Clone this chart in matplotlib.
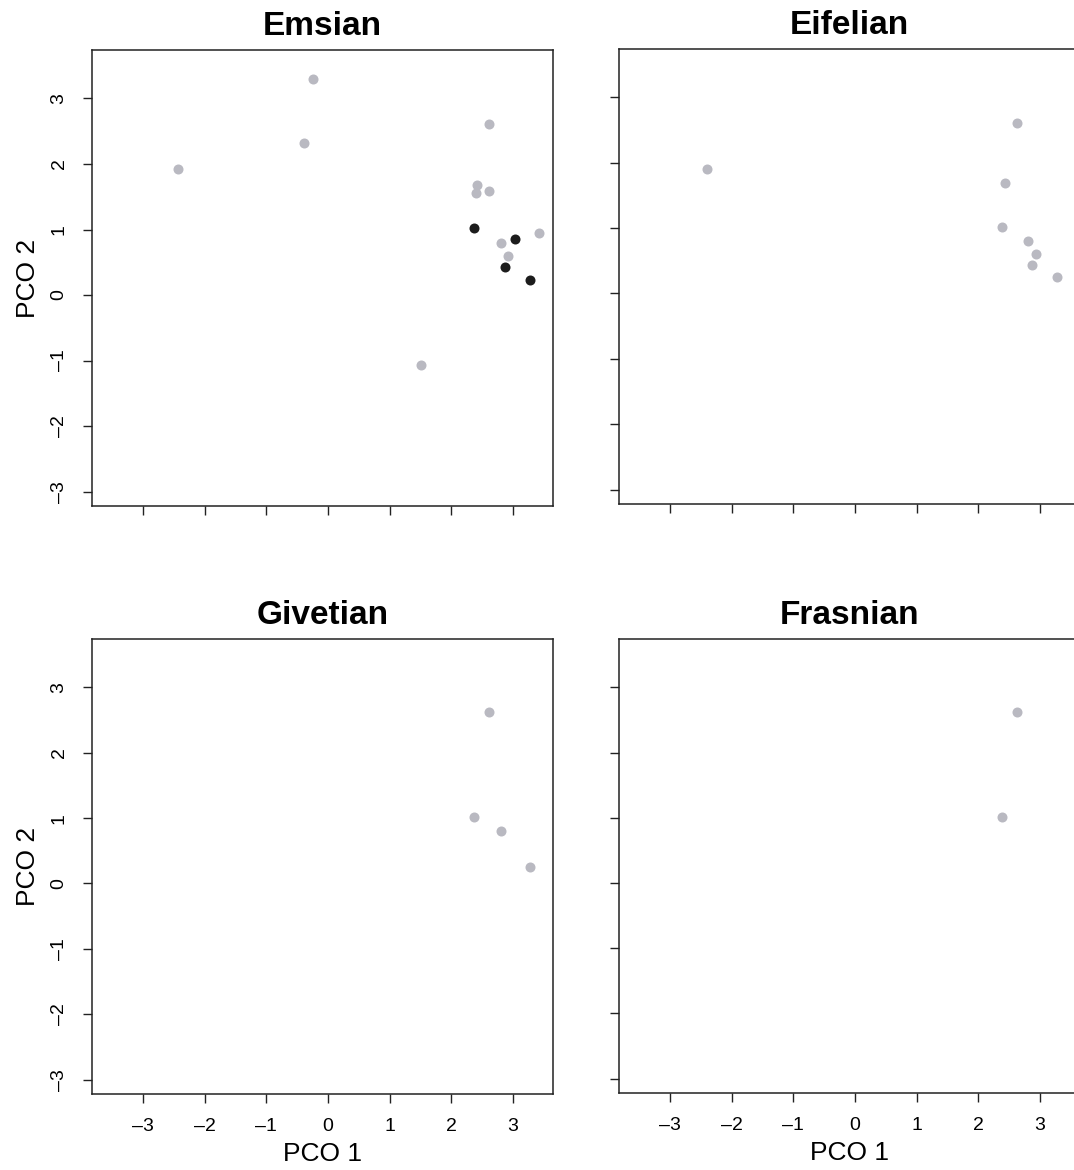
import matplotlib
matplotlib.use("Agg")
import matplotlib.pyplot as plt

plt.rcParams['font.family'] = ['Liberation Sans', 'DejaVu Sans']

# PCO scores per stage (gray = all taxa, dark = highlighted taxa)
emsian_gray_x = [-2.43, -0.24, -0.39, 2.61, 2.41, 2.40, 2.61, 2.80, 2.92, 3.42, 1.51]
emsian_gray_y = [1.92, 3.30, 2.32, 2.61, 1.68, 1.56, 1.59, 0.79, 0.60, 0.95, -1.07]
emsian_dark_x = [2.37, 3.03, 2.87, 3.27]
emsian_dark_y = [1.02, 0.85, 0.43, 0.23]

eifelian_x = [-2.41, 2.63, 2.43, 2.38, 2.81, 2.93, 2.87, 3.28]
eifelian_y = [1.91, 2.61, 1.69, 1.02, 0.80, 0.60, 0.44, 0.25]

givetian_x = [2.61, 2.37, 2.80, 3.27]
givetian_y = [2.62, 1.01, 0.80, 0.245]

frasnian_x = [2.63, 2.38]
frasnian_y = [2.62, 1.01]

ticks = [-3, -2, -1, 0, 1, 2, 3]
xlim = (-3.83, 3.65)
ylim = (-3.22, 3.74)

gray = '#b9b9c1'
dark = '#1c1c1c'

W, H = 1074, 1170
fig = plt.figure(figsize=(W / 100, H / 100), dpi=100)


def panel(left, top, right, bottom, title, xlab, ylab):
    ax = fig.add_axes([left / W, 1 - bottom / H, (right - left) / W, (bottom - top) / H])
    ax.set_xlim(*xlim)
    ax.set_ylim(*ylim)
    ax.set_xticks(ticks)
    ax.set_yticks(ticks)
    ax.set_xticklabels([str(t).replace('-', '\u2013') for t in ticks] if xlab else [])
    ax.set_yticklabels([str(t).replace('-', '\u2013') for t in ticks] if ylab else [],
                       rotation=90, va='center')
    ax.tick_params(direction='out', length=6.5, width=1.0, labelsize=14, pad=11, color='#222222')
    for s in ax.spines.values():
        s.set_linewidth(1.1)
        s.set_color('#222222')
    ax.set_title(title, fontsize=24, fontweight='bold', pad=11)
    if xlab:
        ax.set_xlabel('PCO 1', fontsize=19, labelpad=5)
    if ylab:
        ax.set_ylabel('PCO 2', fontsize=19, labelpad=8)
    return ax


ax1 = panel(92, 50, 553, 506, 'Emsian', False, True)
ax1.scatter(emsian_gray_x, emsian_gray_y, s=52, color=gray, linewidths=0)
ax1.scatter(emsian_dark_x, emsian_dark_y, s=52, color=dark, linewidths=0)

ax2 = panel(619, 49, 1080, 504, 'Eifelian', False, False)
ax2.scatter(eifelian_x, eifelian_y, s=52, color=gray, linewidths=0)

ax3 = panel(92, 639, 553, 1094, 'Givetian', True, True)
ax3.scatter(givetian_x, givetian_y, s=52, color=gray, linewidths=0)

ax4 = panel(619, 639, 1080, 1093, 'Frasnian', True, False)
ax4.scatter(frasnian_x, frasnian_y, s=52, color=gray, linewidths=0)

fig.savefig('out.png', dpi=100)
